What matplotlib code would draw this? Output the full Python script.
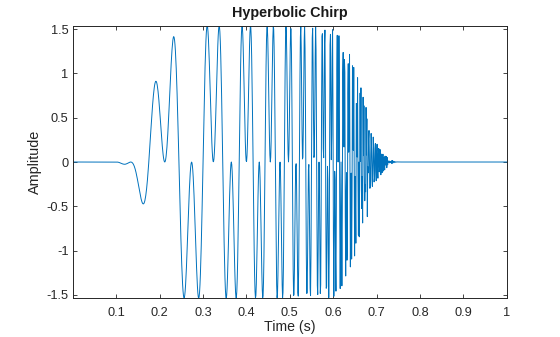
import numpy as np
import matplotlib
matplotlib.use("Agg")
import matplotlib.pyplot as plt

# ---- signal parameters (hyperbolic chirps) ----
n_samples = 1024
chirp_rates = [15, 5]          # alpha, beta in units of n*pi/1024
chirp_stops = [0.68, 0.75]     # each chirp is switched off after this time (s)
chirp_start = 0.1              # signal starts (s)
singular_time = 0.8            # hyperbolic singularity t0 (s)
env_length = 0.65              # length of the smooth envelope (fraction of n)

x_ticks = [0.1, 0.2, 0.3, 0.4, 0.5, 0.6, 0.7, 0.8, 0.9, 1.0]
x_ticklabels = ["0.1", "0.2", "0.3", "0.4", "0.5", "0.6", "0.7", "0.8", "0.9", "1"]
y_ticks = [-1.5, -1, -0.5, 0, 0.5, 1, 1.5]
y_ticklabels = ["-1.5", "-1", "-0.5", "0", "0.5", "1", "1.5"]

title_text = "Hyperbolic Chirp"
x_label = "Time (s)"
y_label = "Amplitude"

# ---- build the signal ----
n = n_samples
t = np.arange(1, n + 1) / n
sig = np.zeros(n)
for rate, stop in zip(chirp_rates, chirp_stops):
    a = rate * n * np.pi / 1024
    sig += np.sin(a / (singular_time - t)) * (t > chirp_start) * (t < stop)
M = int(round(env_length * n))
P = M // 4
env_m = np.ones(M)
k = np.arange(1, P + 1)
env_m[:P] = (1 + np.sin(-np.pi / 2 + (k - 1) / (P - 1) * np.pi)) / 2
env_m[M - P:] = env_m[:P][::-1]
env = np.zeros(n)
s0 = int(np.ceil(n * chirp_start)) - 1
env[s0:s0 + M] = env_m
sig = sig * env

# ---- plot ----
plt.rcParams['font.family'] = ['Liberation Sans', 'DejaVu Sans']
fig = plt.figure(figsize=(5.6, 3.37), dpi=100)
ax = fig.add_axes([0.1309, 0.1148, 0.7739, 0.8089])
ax.plot(t, sig, color='#0072BD', lw=0.7)
ax.set_xlim(t[0], t[-1])
ax.set_ylim(sig.min(), sig.max())
ax.set_xticks(x_ticks)
ax.set_xticklabels(x_ticklabels)
ax.set_yticks(y_ticks)
ax.set_yticklabels(y_ticklabels)
ax.tick_params(direction='in', length=3, width=0.6, top=True, right=True,
               labelsize=9.2, colors='#262626')
ax.tick_params(axis='x', pad=6.2)
ax.tick_params(axis='y', pad=3.5)
for s in ax.spines.values():
    s.set_linewidth(0.7)
    s.set_color('#262626')
ax.set_title(title_text, fontsize=10.4, fontweight='bold', color='#1a1a1a', pad=6)
ax.set_xlabel(x_label, fontsize=10.2, color='#262626', labelpad=1)
ax.set_ylabel(y_label, fontsize=10.4, color='#262626', labelpad=3)
fig.savefig("out.png", dpi=100)
